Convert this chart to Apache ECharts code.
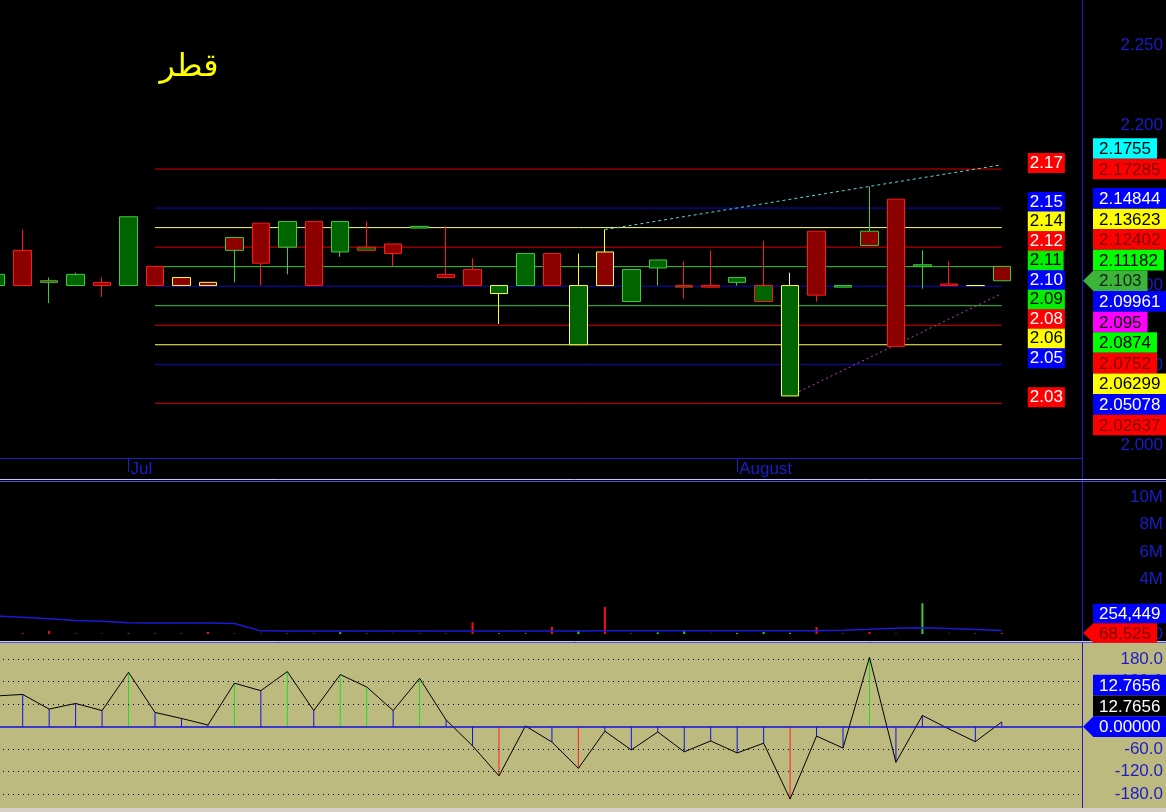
<!DOCTYPE html>
<html><head><meta charset="utf-8">
<script src="https://cdn.jsdelivr.net/npm/echarts@6/dist/echarts.min.js"></script>
<style>html,body{margin:0;padding:0;background:#000;overflow:hidden;width:1166px;height:812px;}#c{position:absolute;left:-17px;top:0;width:1183px;height:812px;}</style>
</head><body><div id="c"></div>
<script>
// ---------------- DATA ----------------
const chartTitle = 'قطر';
const dates = ['2024-06-24','2024-06-25','2024-06-26','2024-06-27','2024-06-30',
 '2024-07-01','2024-07-02','2024-07-03','2024-07-04','2024-07-07','2024-07-08','2024-07-09','2024-07-10','2024-07-11',
 '2024-07-14','2024-07-15','2024-07-16','2024-07-17','2024-07-18','2024-07-21','2024-07-22','2024-07-23','2024-07-24','2024-07-25',
 '2024-07-28','2024-07-29','2024-07-30','2024-07-31','2024-08-01','2024-08-04','2024-08-05','2024-08-06','2024-08-07','2024-08-08',
 '2024-08-11','2024-08-12','2024-08-13','2024-08-14','2024-08-15','2024-08-18','2024-08-19','2024-08-20'];
const monthNames = {'06':'Jun','07':'Jul','08':'August'};
const opens  = [2.100,2.122,2.103,2.100,2.102,2.100,2.112,2.105,2.102,2.130,2.139,2.124,2.140,2.121,2.122,2.126,2.136,2.107,2.110,2.095,2.100,2.120,2.063,2.121,2.090,2.111,2.099,2.100,2.102,2.090,2.031,2.134,2.099,2.134,2.154,2.112,2.101,2.100,2.112];
const closes = [2.107,2.100,2.102,2.107,2.100,2.143,2.100,2.100,2.100,2.122,2.114,2.140,2.100,2.140,2.124,2.120,2.137,2.105,2.100,2.100,2.120,2.100,2.100,2.100,2.110,2.116,2.100,2.099,2.105,2.100,2.100,2.094,2.100,2.125,2.062,2.113,2.100,2.100,2.103];
const lows   = [2.100,2.100,2.089,2.100,2.093,2.100,2.100,2.100,2.100,2.102,2.100,2.107,2.100,2.118,2.122,2.112,2.136,2.105,2.100,2.076,2.100,2.100,2.063,2.100,2.090,2.100,2.092,2.099,2.100,2.090,2.031,2.090,2.099,2.125,2.062,2.098,2.100,2.100,2.103];
const highs  = [2.107,2.135,2.105,2.108,2.105,2.143,2.112,2.105,2.102,2.130,2.139,2.140,2.140,2.140,2.140,2.126,2.137,2.137,2.117,2.100,2.120,2.120,2.120,2.135,2.110,2.116,2.115,2.122,2.105,2.128,2.108,2.134,2.100,2.162,2.154,2.122,2.115,2.100,2.112];
const volumes = [50000,60000,220000,30000,30000,40000,40000,40000,150000,30000,30000,30000,40000,140000,30000,30000,30000,40000,850000,50000,50000,530000,240000,1980000,30000,120000,200000,30000,80000,150000,80000,500000,30000,150000,30000,2250000,30000,30000,68525];
const volumeMA = [1320000,1230000,1120000,990000,930000,820000,800000,800000,800000,770000,230000,225000,220000,220000,215000,215000,215000,215000,220000,220000,220000,225000,225000,240000,240000,235000,235000,235000,230000,230000,230000,240000,280000,340000,420000,460000,400000,330000,254449];
const cci = [82,86,47,62,43,145,38,22,4.5,116,96,147,43,139,106,43,129,18,-51,-131,2,-41,-111,-12,-62,-14,-67,-38,-70,-44,-193,-25,-57,185,-95,30,-6,-40,12.7656];
const levels = [2.17285,2.14844,2.13623,2.12402,2.11182,2.09961,2.0874,2.0752,2.06299,2.05078,2.02637];
const levelFrom = '2024-07-02', levelTo = '2024-08-15';
const resistance = [['2024-07-25',2.135],['2024-08-15',2.1755]];
const support = [['2024-08-05',2.031],['2024-08-15',2.095]];
const priceTicks = [2.0,2.05,2.1,2.15,2.2,2.25];
const volumeTicks = [0,4e6,6e6,8e6,10e6];
const cciTicks = [-180,-120,-60,0,60,120,180];

// ---------------- STYLE ----------------
const levelColors = ['red','blue','yellow','red','green','blue','green','red','yellow','blue','red'];
const lineCol = {red:'#e00000', blue:'#0c0cc8', yellow:'#ffff60', green:'#33cc33'};
const leftTag = {red:['#ff0000','#ffffff'], blue:['#0000ff','#ffffff'], yellow:['#ffff00','#000000'], green:['#00ee00','#000000']};
const rightTag = {red:['#ff0000','#7a0000'], blue:['#0000ff','#ffffff'], yellow:['#ffff00','#000000'], green:['#00ff00','#000000']};
const AXC = '#1c1cc8', OLIVE = '#bdba80', FONT = 'Liberation Sans';
const OX = 17;              // chart canvas starts 17px left of the page
const GW = 1112.4;          // plot width (42 slots)
const X = px => px + OX;    // page x -> chart x

const r3 = v => Math.round(v * 1000);
const candleData = opens.map((o, i) => {
  const c = closes[i];
  const fill = r3(c) >= r3(o) ? '#006400' : '#8c0000';
  const prev = i === 0 ? o : closes[i - 1];
  const edge = r3(c) > r3(prev) ? '#3ccc3c' : (r3(c) < r3(prev) ? '#ff1a1a' : '#ffff40');
  return {value: [o, c, lows[i], highs[i]],
    itemStyle: {color: fill, color0: fill, borderColor: edge, borderColor0: edge, borderColorDoji: edge, borderWidth: 1}};
});
const volData = volumes.map((v, i) => ({value: v,
  itemStyle: {color: r3(closes[i]) >= r3(opens[i]) ? '#30d030' : '#ff1010'}}));
const cciBars = cci.map(v => ({value: v,
  itemStyle: {color: v > 100 ? '#22dd22' : (v < -100 ? '#ff2020' : '#1010e0')}}));

const isMonthStart = (idx) => idx > 0 && dates[idx].slice(5, 7) !== dates[idx - 1].slice(5, 7);

const levelSeries = levels.map((v, i) => {
  const col = levelColors[i];
  return {type: 'line', xAxisIndex: 0, yAxisIndex: 0, silent: true, z: 1,
    symbol: 'circle', symbolSize: 0, showSymbol: true,
    lineStyle: {color: lineCol[col], width: 1}, itemStyle: {color: lineCol[col]},
    data: [[levelFrom, v], {value: [levelTo, v], label: {show: true, position: 'right', distance: 26, offset: [0, -6],
      formatter: () => v.toFixed(2), backgroundColor: leftTag[col][0], color: leftTag[col][1],
      fontFamily: FONT, fontSize: 17, lineHeight: 18, padding: [1, 2, 1, 2]}}]};
});

const yLab = (fmt, ticks) => ({customValues: ticks, formatter: fmt, color: AXC, fontSize: 17,
  fontFamily: FONT, align: 'right', margin: X(1164) - GW});

const option = {
  animation: false,
  backgroundColor: '#000000',
  textStyle: {fontFamily: FONT},
  grid: [
    {left: 0, top: 0, width: GW, height: 458},
    {left: 0, top: 483, width: GW, height: 159},
    {left: 0, top: 643, width: GW, height: 165, show: true, backgroundColor: OLIVE, borderWidth: 0}
  ],
  xAxis: [
    {type: 'category', gridIndex: 0, data: dates, boundaryGap: true,
     axisLine: {show: true, lineStyle: {color: AXC, width: 1}},
     axisTick: {show: true, alignWithLabel: true, length: 14, interval: (i) => isMonthStart(i), lineStyle: {color: AXC}},
     axisLabel: {interval: (i) => isMonthStart(i), formatter: (val) => monthNames[val.slice(5, 7)],
       color: AXC, fontSize: 17, fontFamily: FONT, align: 'left', margin: 3, padding: [0, 0, 0, 2]},
     splitLine: {show: false}},
    {type: 'category', gridIndex: 1, data: dates, show: false},
    {type: 'category', gridIndex: 2, data: dates, show: false}
  ],
  yAxis: [
    {type: 'value', gridIndex: 0, position: 'right', min: 1.99219, max: 2.27853, z: 10,
     axisLine: {show: false}, axisTick: {show: false}, splitLine: {show: false},
     axisLabel: yLab(v => v.toFixed(3), priceTicks)},
    {type: 'value', gridIndex: 1, position: 'right', min: -585000, max: 11046000, z: 10,
     axisLine: {show: false}, axisTick: {show: false}, splitLine: {show: false},
     axisLabel: yLab(v => v === 0 ? '0' : (v / 1e6) + 'M', volumeTicks)},
    {type: 'value', gridIndex: 2, position: 'right', min: -216.8, max: 223.2, z: 10,
     axisLine: {show: false}, axisTick: {show: false}, splitLine: {show: false},
     axisLabel: yLab(v => v.toFixed(1), cciTicks)}
  ],
  series: [
    ...levelSeries,
    {type: 'line', xAxisIndex: 0, yAxisIndex: 0, data: resistance, symbol: 'none', silent: true, z: 2,
     lineStyle: {color: '#5ad8d8', width: 1, type: [3, 3]}},
    {type: 'line', xAxisIndex: 0, yAxisIndex: 0, data: support, symbol: 'none', silent: true, z: 2,
     lineStyle: {color: '#c040c0', width: 1, type: [2, 3]}},
    {type: 'candlestick', xAxisIndex: 0, yAxisIndex: 0, data: candleData, barWidth: 18, z: 3, silent: true},
    {type: 'bar', xAxisIndex: 1, yAxisIndex: 1, data: volData, barWidth: 2, silent: true},
    {type: 'line', xAxisIndex: 1, yAxisIndex: 1, data: volumeMA, symbol: 'none', silent: true,
     lineStyle: {color: '#1a1ad8', width: 1.5}},
    {type: 'bar', xAxisIndex: 2, yAxisIndex: 2, data: cciBars, barWidth: 1, silent: true},
    {type: 'line', xAxisIndex: 2, yAxisIndex: 2, data: cci, symbol: 'none', silent: true, z: 3,
     lineStyle: {color: '#000000', width: 1},
     markLine: {silent: true, symbol: ['none', 'none'], label: {show: false}, animation: false,
       lineStyle: {color: '#000000', type: [1, 4], width: 1},
       data: [{yAxis: 0, lineStyle: {color: '#1010e0', type: 'solid', width: 1.5}},
              {yAxis: 60}, {yAxis: 120}, {yAxis: 180}, {yAxis: -60}, {yAxis: -120}, {yAxis: -180}]}}
  ]
};

const chart = echarts.init(document.getElementById('c'));
chart.setOption(option);

// ---------------- value tags on the right ----------------
const ctx = document.createElement('canvas').getContext('2d');
const TFONT = '17px "' + FONT + '"';
const textW = t => { ctx.font = TFONT; return ctx.measureText(t).width; };
function stack(items, yAxisIndex, h) {
  items.forEach(it => it.nat = chart.convertToPixel({yAxisIndex}, it.value));
  const a = items.findIndex(it => it.anchor);
  items[a].y = items[a].nat;
  for (let i = a - 1; i >= 0; i--) items[i].y = Math.min(items[i].nat, items[i + 1].y - h);
  for (let i = a + 1; i < items.length; i++) items[i].y = Math.max(items[i].nat, items[i - 1].y + h);
}
function tagEls(it, h) {
  const w = textW(it.text) + 12;
  const els = [{type: 'rect', z: 20, silent: true, shape: {x: X(1093), y: it.y - h / 2, width: w, height: h}, style: {fill: it.bg}}];
  if (it.anchor) els.push({type: 'polygon', z: 20, silent: true,
    shape: {points: [[X(1083), it.y], [X(1093.5), it.y - h / 2], [X(1093.5), it.y + h / 2]]}, style: {fill: it.bg}});
  els.push({type: 'text', z: 21, silent: true, x: X(1099), y: it.y + 1,
    style: {text: it.text, fill: it.fg, font: TFONT, align: 'left', verticalAlign: 'middle', textAlign: 'left', textVerticalAlign: 'middle'}});
  return els;
}
const lastClose = closes[closes.length - 1];
const mainItems = [
  {value: resistance[1][1], text: String(resistance[1][1]), bg: '#00ffff', fg: '#000000'},
  {value: support[1][1], text: String(support[1][1]), bg: '#ff00ff', fg: '#000000'},
  {value: lastClose, text: lastClose.toFixed(3), bg: '#3cb43c', fg: '#0a260a', anchor: true},
  ...levels.map((v, i) => ({value: v, text: String(v), bg: rightTag[levelColors[i]][0], fg: rightTag[levelColors[i]][1]}))
].sort((a, b) => b.value - a.value);
stack(mainItems, 0, 20.6);

const lastVol = volumes[volumes.length - 1], lastMA = volumeMA[volumeMA.length - 1];
const volItems = [
  {value: lastMA, text: lastMA.toLocaleString('en-US'), bg: '#0000ff', fg: '#ffffff'},
  {value: lastVol, text: lastVol.toLocaleString('en-US'), bg: '#ff0000', fg: '#7a0000', anchor: true}
];
stack(volItems, 1, 19.5);

const lastCci = cci[cci.length - 1];
const cciItems = [
  {value: lastCci, text: lastCci.toFixed(4), bg: '#0000ff', fg: '#ffffff'},
  {value: lastCci, text: lastCci.toFixed(4), bg: '#000000', fg: '#ffffff'},
  {value: 0, text: (0).toFixed(5), bg: '#0000ff', fg: '#ffffff', anchor: true}
];
stack(cciItems, 2, 20.8);

const els = [
  {type: 'rect', z: 5, silent: true, shape: {x: X(1082.5), y: 0, width: 90, height: 479}, style: {fill: '#000000'}},
  {type: 'rect', z: 5, silent: true, shape: {x: X(1082.5), y: 483, width: 90, height: 159}, style: {fill: '#000000'}},
  {type: 'rect', z: 5, silent: true, shape: {x: X(1082.5), y: 643, width: 90, height: 165}, style: {fill: OLIVE}},
  {type: 'line', z: 6, silent: true, shape: {x1: X(1082.5), y1: 0, x2: X(1082.5), y2: 808}, style: {stroke: AXC, lineWidth: 1}},
  {type: 'line', z: 6, silent: true, shape: {x1: 0, y1: 479.5, x2: X(1166), y2: 479.5}, style: {stroke: '#c8c8ff', lineWidth: 1}},
  {type: 'line', z: 6, silent: true, shape: {x1: 0, y1: 481.5, x2: X(1166), y2: 481.5}, style: {stroke: '#5050e0', lineWidth: 1}},
  {type: 'line', z: 6, silent: true, shape: {x1: 0, y1: 641.5, x2: X(1166), y2: 641.5}, style: {stroke: '#c8c8ff', lineWidth: 1}},
  {type: 'line', z: 6, silent: true, shape: {x1: 0, y1: 642.5, x2: X(1166), y2: 642.5}, style: {stroke: '#5050e0', lineWidth: 1}},
  {type: 'rect', z: 6, silent: true, shape: {x: 0, y: 808, width: X(1166), height: 4}, style: {fill: '#d4d0c8'}},
  {type: 'text', z: 6, silent: true, x: X(189), y: 68,
   style: {text: chartTitle, fill: '#ffff00', font: '32px "DejaVu Sans"', align: 'center', verticalAlign: 'middle', textAlign: 'center', textVerticalAlign: 'middle'}}
];
mainItems.forEach(it => els.push(...tagEls(it, 20.6)));
volItems.forEach(it => els.push(...tagEls(it, 19.5)));
cciItems.forEach(it => els.push(...tagEls(it, 20.8)));
chart.setOption({graphic: {elements: els}});
</script></body></html>
